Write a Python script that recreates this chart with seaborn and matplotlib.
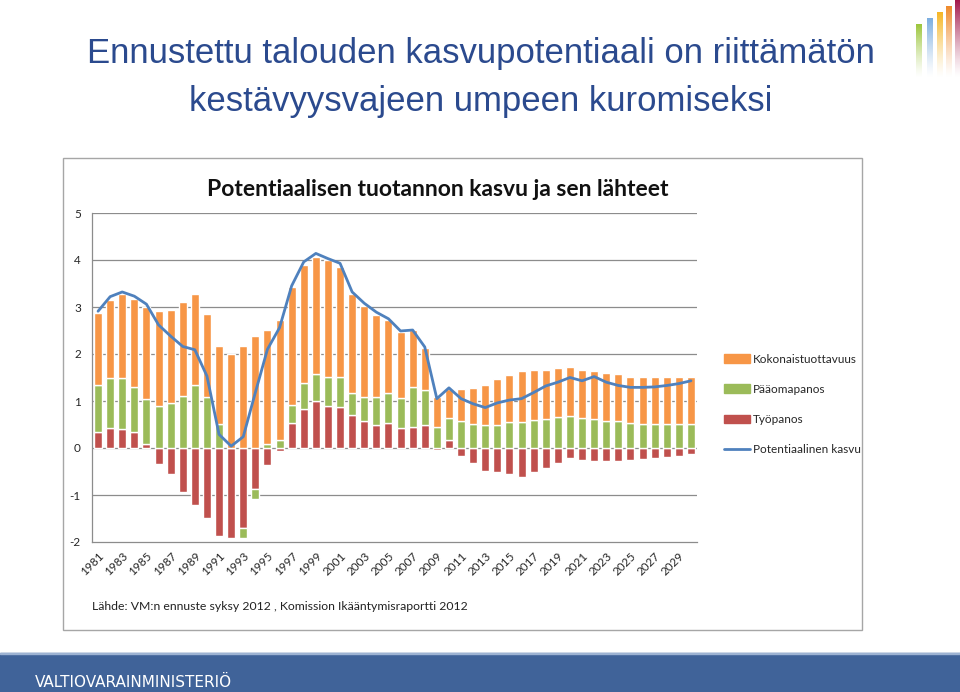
import numpy as np
import pandas as pd
import matplotlib
matplotlib.use("Agg")
import matplotlib.pyplot as plt
import matplotlib.patches as mpatches
from matplotlib.lines import Line2D
import seaborn as sns

# Years 1981-2030
years = [str(y) for y in range(1981, 2031)]

# Työpanos (labour input)
tyopanos = [0.33, 0.43, 0.41, 0.35, 0.09, -0.33, -0.55, -0.93, -1.21, -1.48,
            -1.87, -1.91, -1.70, -0.88, -0.37, -0.07, 0.54, 0.82, 1.01, 0.89,
            0.88, 0.70, 0.57, 0.50, 0.54, 0.43, 0.45, 0.48, -0.04, 0.17,
            -0.18, -0.31, -0.48, -0.50, -0.56, -0.61, -0.51, -0.42, -0.32, -0.22,
            -0.25, -0.27, -0.27, -0.27, -0.25, -0.23, -0.22, -0.19, -0.16, -0.12]

# Pääomapanos (capital input)
paaomapanos = [1.02, 1.06, 1.07, 0.94, 0.95, 0.89, 0.95, 1.11, 1.35, 1.09,
               0.52, 0.00, -0.22, -0.20, 0.08, 0.18, 0.37, 0.56, 0.56, 0.62,
               0.64, 0.46, 0.52, 0.59, 0.62, 0.64, 0.85, 0.75, 0.45, 0.47,
               0.57, 0.52, 0.49, 0.50, 0.55, 0.55, 0.60, 0.62, 0.65, 0.68,
               0.64, 0.62, 0.58, 0.57, 0.54, 0.52, 0.52, 0.52, 0.52, 0.52]

# Kokonaistuottavuus (total factor productivity)
kokonaistuottavuus = [1.53, 1.66, 1.79, 1.89, 1.95, 2.02, 1.99, 2.00, 1.93, 1.77,
                      1.66, 1.99, 2.16, 2.38, 2.44, 2.54, 2.52, 2.51, 2.49, 2.48,
                      2.34, 2.12, 1.93, 1.75, 1.56, 1.40, 1.21, 0.89, 0.64, 0.61,
                      0.68, 0.75, 0.84, 0.96, 1.01, 1.09, 1.06, 1.05, 1.05, 1.04,
                      1.03, 1.02, 1.02, 1.00, 0.98, 1.00, 1.00, 1.00, 1.00, 1.00]

# Potentiaalinen kasvu (potential growth)
potentiaalinen = [2.91, 3.22, 3.32, 3.23, 3.06, 2.62, 2.38, 2.16, 2.09, 1.53,
                  0.29, 0.04, 0.24, 1.18, 2.10, 2.56, 3.45, 3.96, 4.14, 4.03,
                  3.93, 3.32, 3.08, 2.89, 2.75, 2.49, 2.51, 2.15, 1.05, 1.28,
                  1.05, 0.94, 0.86, 0.96, 1.02, 1.05, 1.18, 1.32, 1.40, 1.50,
                  1.43, 1.52, 1.40, 1.33, 1.29, 1.29, 1.30, 1.33, 1.37, 1.43]

components = [("Työpanos", tyopanos, "#C0504D"),
              ("Pääomapanos", paaomapanos, "#9BBB59"),
              ("Kokonaistuottavuus", kokonaistuottavuus, "#F79646")]
line_color = "#4F81BD"
grid_color = "#8C8C8C"

sns.set_style("white")
plt.rcParams["font.family"] = ["Lato", "DejaVu Sans"]

fig = plt.figure(figsize=(9.6, 6.92), dpi=100)
W, H = 960, 692

def fx(px):
    return px / W

def fy(py):
    return 1 - py / H

# slide title
title_color = "#2B4A8E"
fig.text(fx(481), fy(53), "Ennustettu talouden kasvupotentiaali on riittämätön",
         ha="center", va="center", fontsize=25, color=title_color,
         family=["Liberation Sans", "DejaVu Sans"])
fig.text(fx(481), fy(102), "kestävyysvajeen umpeen kuromiseksi",
         ha="center", va="center", fontsize=25, color=title_color,
         family=["Liberation Sans", "DejaVu Sans"])

# chart frame
fig.patches.append(mpatches.Rectangle((fx(63), fy(630)), fx(862) - fx(63), fy(158) - fy(630),
                                      transform=fig.transFigure, fill=False,
                                      edgecolor="#A6A6A6", lw=1.0))
fig.text(fx(438), fy(190), "Potentiaalisen tuotannon kasvu ja sen lähteet",
         ha="center", va="center", fontsize=16.5, fontweight="bold", color="#111111")

ax = fig.add_axes([fx(92), fy(542), fx(697) - fx(92), fy(213) - fy(542)])

# stacked bars, positives up and negatives down separately
pos_base = np.zeros(len(years))
neg_base = np.zeros(len(years))
for name, vals, col in components:
    v = np.array(vals)
    bottom = np.where(v >= 0, pos_base, neg_base)
    sns.barplot(x=years, y=v, bottom=bottom, color=col, saturation=1,
                width=0.66, errorbar=None, ax=ax, zorder=2)
    pos_base = pos_base + np.clip(v, 0, None)
    neg_base = neg_base + np.clip(v, None, 0)

sns.lineplot(x=np.arange(len(years)), y=potentiaalinen, color=line_color,
             lw=2.0, ax=ax, zorder=3)

ax.set_xlabel("")
ax.set_ylabel("")
ax.set_xlim(-0.5, len(years) - 0.5)
ax.set_ylim(-2, 5)
ax.set_yticks(range(-2, 6))
ax.set_yticklabels([str(t) for t in range(-2, 6)], fontsize=8.5)
for t in range(-1, 6):
    ax.axhline(t, color=grid_color, lw=0.9, zorder=1)

ax.set_xticks(np.arange(0, len(years), 2))
ax.set_xticklabels(years[::2], rotation=45, ha="right", rotation_mode="anchor",
                   fontsize=8.5)
ax.set_xticks(np.arange(-0.5, len(years), 1), minor=True)
ax.tick_params(axis="x", which="major", length=0, pad=6)
ax.tick_params(axis="x", which="minor", length=4, color=grid_color, direction="out")
ax.tick_params(axis="y", length=5, color=grid_color, direction="out", pad=3)
for s in ["top", "right"]:
    ax.spines[s].set_visible(False)
for s in ["left", "bottom"]:
    ax.spines[s].set_color(grid_color)
    ax.spines[s].set_linewidth(0.9)

# legend (order as in the original)
handles = [mpatches.Patch(color=components[2][2], label=components[2][0]),
           mpatches.Patch(color=components[1][2], label=components[1][0]),
           mpatches.Patch(color=components[0][2], label=components[0][0]),
           Line2D([0], [0], color=line_color, lw=2, label="Potentiaalinen kasvu")]
fig.legend(handles=handles, loc="upper left", bbox_to_anchor=(fx(713), fy(343)),
           frameon=False, fontsize=8.5, labelspacing=1.62, handlelength=2.2,
           handleheight=0.7, handletextpad=0.25)

fig.text(fx(92), fy(607), "Lähde: VM:n ennuste syksy 2012 , Komission Ikääntymisraportti 2012",
         ha="left", va="center", fontsize=8.8, color="#222222")

# bottom banner
fig.patches.append(mpatches.Rectangle((0, 0), 1, fy(653), transform=fig.transFigure,
                                      color="#406399", zorder=0))
fig.patches.append(mpatches.Rectangle((0, fy(654)), 1, fy(653) - fy(654),
                                      transform=fig.transFigure, color="#9DB3D3", zorder=1))
fig.text(fx(35), fy(682), "VALTIOVARAINMINISTERIÖ", ha="left", va="center",
         fontsize=11, color="white", family=["Liberation Sans Narrow", "DejaVu Sans"])

# logo bars with fade
logo = fig.add_axes([fx(910), fy(80), fx(960) - fx(910), fy(0) - fy(80)])
logo.axis("off")
logo_x = [916, 927, 937, 946, 955]
logo_top = [24, 18, 12, 6, 0]
logo_cols = ["#9CC63B", "#7BAEE0", "#F6B625", "#EF8A2B", "#A3174B"]
for x0, top, c in zip(logo_x, logo_top, logo_cols):
    rgba = np.zeros((100, 1, 4))
    rgba[:, 0, :3] = matplotlib.colors.to_rgb(c)
    rgba[:, 0, 3] = np.linspace(1, 0, 100) ** 1.3
    logo.imshow(rgba, extent=[x0, x0 + 5.5, 78, top], aspect="auto",
                interpolation="bilinear")
logo.set_xlim(910, 960)
logo.set_ylim(80, 0)

fig.savefig("out.png", dpi=100)
